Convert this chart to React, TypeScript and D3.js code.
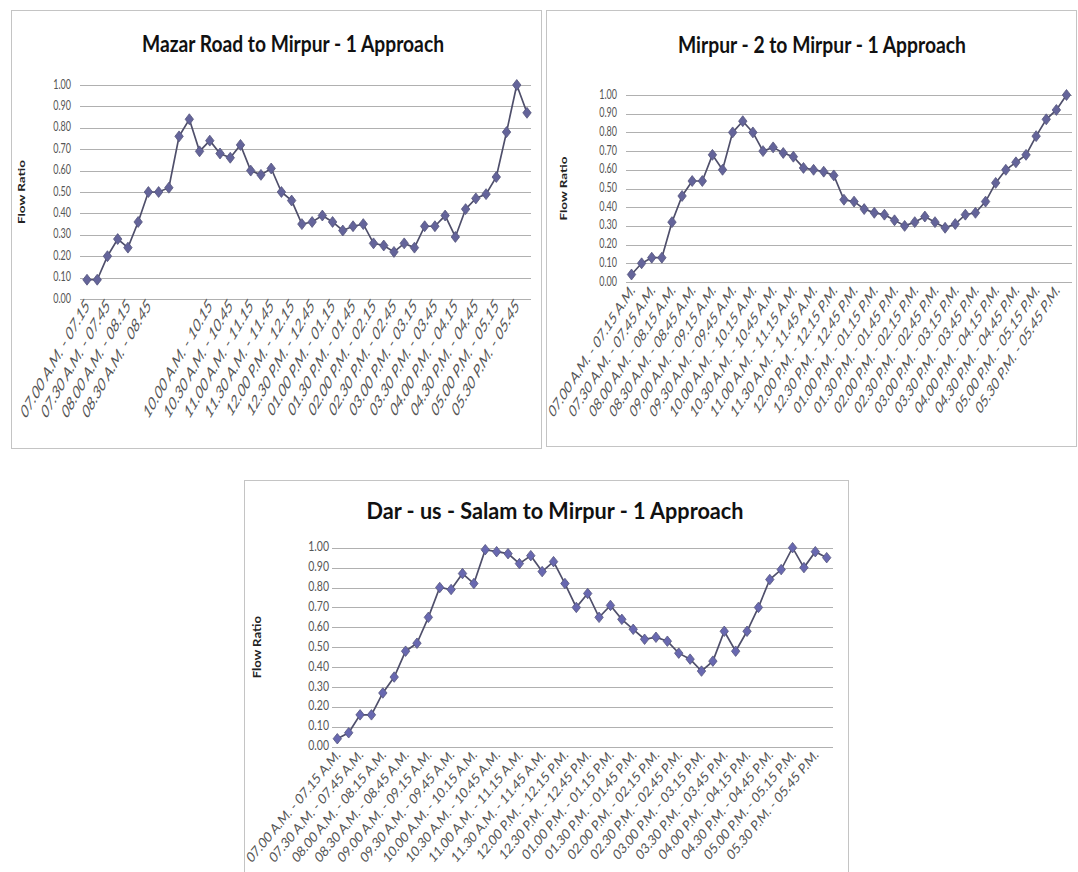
import React from "react";
import * as d3 from "d3";

// 15-minute counting periods, 07.00 A.M. to 05.45 P.M.
const slotStarts = [
  "07.00 A.M.", "07.15 A.M.", "07.30 A.M.", "07.45 A.M.", "08.00 A.M.", "08.15 A.M.",
  "08.30 A.M.", "08.45 A.M.", "09.00 A.M.", "09.15 A.M.", "09.30 A.M.", "09.45 A.M.",
  "10.00 A.M.", "10.15 A.M.", "10.30 A.M.", "10.45 A.M.", "11.00 A.M.", "11.15 A.M.",
  "11.30 A.M.", "11.45 A.M.", "12.00 P.M.", "12.15 P.M.", "12.30 P.M.", "12.45 P.M.",
  "01.00 P.M.", "01.15 P.M.", "01.30 P.M.", "01.45 P.M.", "02.00 P.M.", "02.15 P.M.",
  "02.30 P.M.", "02.45 P.M.", "03.00 P.M.", "03.15 P.M.", "03.30 P.M.", "03.45 P.M.",
  "04.00 P.M.", "04.15 P.M.", "04.30 P.M.", "04.45 P.M.", "05.00 P.M.", "05.15 P.M.",
  "05.30 P.M.", "05.45 P.M.",
];

// Axis labels shown on every second period
const fullTickLabels = [
  "07.00 A.M. - 07.15 A.M.", "07.30 A.M. - 07.45 A.M.", "08.00 A.M. - 08.15 A.M.",
  "08.30 A.M. - 08.45 A.M.", "09.00 A.M. - 09.15 A.M.", "09.30 A.M. - 09.45 A.M.",
  "10.00 A.M. - 10.15 A.M.", "10.30 A.M. - 10.45 A.M.", "11.00 A.M. - 11.15 A.M.",
  "11.30 A.M. - 11.45 A.M.", "12.00 P.M. - 12.15 P.M.", "12.30 P.M. - 12.45 P.M.",
  "01.00 P.M. - 01.15 P.M.", "01.30 P.M. - 01.45 P.M.", "02.00 P.M. - 02.15 P.M.",
  "02.30 P.M. - 02.45 P.M.", "03.00 P.M. - 03.15 P.M.", "03.30 P.M. - 03.45 P.M.",
  "04.00 P.M. - 04.15 P.M.", "04.30 P.M. - 04.45 P.M.", "05.00 P.M. - 05.15 P.M.",
  "05.30 P.M. - 05.45 P.M.",
];

const mazarTickLabels = [
  "07.00 A.M. - 07.15", "07.30 A.M. - 07.45", "08.00 A.M. - 08.15", "08.30 A.M. - 08.45",
  "", "", "10.00 A.M. - 10.15", "10.30 A.M. - 10.45", "11.00 A.M. - 11.15",
  "11.30 A.M. - 11.45", "12.00 P.M. - 12.15", "12.30 P.M. - 12.45", "01.00 P.M. - 01.15",
  "01.30 P.M. - 01.45", "02.00 P.M. - 02.15", "02.30 P.M. - 02.45", "03.00 P.M. - 03.15",
  "03.30 P.M. - 03.45", "04.00 P.M. - 04.15", "04.30 P.M. - 04.45", "05.00 P.M. - 05.15",
  "05.30 P.M. - 05.45",
];

const yTicks = [0, 0.1, 0.2, 0.3, 0.4, 0.5, 0.6, 0.7, 0.8, 0.9, 1.0];

// Flow ratio per period for each approach
const mazarValues = [
  0.09, 0.09, 0.20, 0.28, 0.24, 0.36, 0.50, 0.50, 0.52, 0.76, 0.84, 0.69, 0.74, 0.68, 0.66,
  0.72, 0.60, 0.58, 0.61, 0.50, 0.46, 0.35, 0.36, 0.39, 0.36, 0.32, 0.34, 0.35, 0.26, 0.25,
  0.22, 0.26, 0.24, 0.34, 0.34, 0.39, 0.29, 0.42, 0.47, 0.49, 0.57, 0.78, 1.00, 0.87,
];

const mirpur2Values = [
  0.04, 0.10, 0.13, 0.13, 0.32, 0.46, 0.54, 0.54, 0.68, 0.60, 0.80, 0.86, 0.80, 0.70, 0.72,
  0.69, 0.67, 0.61, 0.60, 0.59, 0.57, 0.44, 0.43, 0.39, 0.37, 0.36, 0.33, 0.30, 0.32, 0.35,
  0.32, 0.29, 0.31, 0.36, 0.37, 0.43, 0.53, 0.60, 0.64, 0.68, 0.78, 0.87, 0.92, 1.00,
];

const darUsSalamValues = [
  0.04, 0.07, 0.16, 0.16, 0.27, 0.35, 0.48, 0.52, 0.65, 0.80, 0.79, 0.87, 0.82, 0.99, 0.98,
  0.97, 0.92, 0.96, 0.88, 0.93, 0.82, 0.70, 0.77, 0.65, 0.71, 0.64, 0.59, 0.54, 0.55, 0.53,
  0.47, 0.44, 0.38, 0.43, 0.58, 0.48, 0.58, 0.70, 0.84, 0.89, 1.00, 0.90, 0.98, 0.95,
];

type PanelProps = {
  box: [number, number, number, number];
  title: string;
  titleX: number;
  titleY: number;
  titleWidth: number;
  titleSize: number;
  firstX: number;
  lastX: number;
  zeroY: number;
  oneY: number;
  gridLeft: number;
  gridRight: number;
  tickRight: number;
  axisTitleX: number;
  values: number[];
  tickLabels: string[];
  stretch: number;
  labelStretch: number;
  tickSize: number;
  labelSize: number;
  labelDx: number;
  labelDy: number;
  markFill: string;
};

const FONT = "Lato, 'Open Sans', 'DejaVu Sans', sans-serif";

function Panel(p: PanelProps) {
  const x = d3.scalePoint<number>().domain(d3.range(slotStarts.length)).range([p.firstX, p.lastX]);
  const y = d3.scaleLinear().domain([0, 1]).range([p.zeroY, p.oneY]);
  const line = d3
    .line<number>()
    .x((_, i) => x(i) as number)
    .y((d) => y(d));
  const fmt = d3.format(".2f");
  const dw = 4.2;
  const dh = 4.2 * Math.min(p.stretch, 1.3);
  const [bx, by, bw, bh] = p.box;
  const midY = (p.zeroY + p.oneY) / 2;

  return (
    <g>
      <rect x={bx + 0.5} y={by + 0.5} width={bw} height={bh} fill="#fff" stroke="#c4c4c4" />
      <text
        x={p.titleX}
        y={p.titleY}
        textAnchor="middle"
        fontFamily={FONT}
        fontWeight={700}
        fontSize={p.titleSize}
        fill="#111"
        textLength={p.titleWidth}
        lengthAdjust="spacingAndGlyphs"
      >
        {p.title}
      </text>
      {yTicks.map((t) => (
        <g key={t}>
          <line
            x1={p.gridLeft}
            x2={p.gridRight}
            y1={Math.round(y(t)) + 0.5}
            y2={Math.round(y(t)) + 0.5}
            stroke="#b0b0b0"
            strokeWidth={1.2}
          />
          <text
            transform={`translate(${p.tickRight},${y(t) + 3.5}) scale(1,${p.stretch})`}
            textAnchor="end"
            fontFamily={FONT}
            fontSize={p.tickSize}
            fill="#555"
          >
            {fmt(t)}
          </text>
        </g>
      ))}
      <text
        transform={`translate(${p.axisTitleX},${midY}) scale(1,${p.stretch}) rotate(-90)`}
        textAnchor="middle"
        fontFamily={FONT}
        fontWeight={700}
        fontSize={p.tickSize}
        fill="#222"
      >
        Flow Ratio
      </text>
      {p.tickLabels.map((lab, j) =>
        lab ? (
          <text
            key={j}
            transform={`translate(${(x(j * 2) as number) + p.labelDx},${p.zeroY + p.labelDy}) scale(1,${p.labelStretch}) rotate(-45)`}
            textAnchor="end"
            fontFamily={FONT}
            fontSize={p.labelSize}
            fill="#555"
          >
            {lab}
          </text>
        ) : null
      )}
      <path d={line(p.values) ?? ""} fill="none" stroke="#4f4f6b" strokeWidth={1.7} />
      {p.values.map((v, i) => {
        const cx = x(i) as number;
        const cy = y(v);
        return (
          <path
            key={i}
            d={`M${cx},${cy - dh}L${cx + dw},${cy}L${cx},${cy + dh}L${cx - dw},${cy}Z`}
            fill={p.markFill}
            stroke="#55557c"
            strokeWidth={0.8}
          />
        );
      })}
    </g>
  );
}

export default function App() {
  return (
    <svg
      width={1078}
      height={872}
      viewBox="0 0 1078 872"
      style={{ position: "absolute", left: 0, top: 0, background: "#fff" }}
    >
      <Panel
        box={[11, 10, 530, 438]}
        title="Mazar Road to Mirpur - 1 Approach"
        titleX={293}
        titleY={52}
        titleWidth={302}
        titleSize={22}
        firstX={87}
        lastX={527}
        zeroY={299}
        oneY={85}
        gridLeft={80}
        gridRight={531}
        tickRight={71}
        axisTitleX={25}
        values={mazarValues}
        tickLabels={mazarTickLabels}
        stretch={1.5}
        labelStretch={1.75}
        tickSize={9}
        labelSize={11}
        labelDx={3}
        labelDy={8}
        markFill="#64649a"
      />
      <Panel
        box={[546, 10, 530, 436]}
        title="Mirpur - 2 to Mirpur - 1 Approach"
        titleX={822}
        titleY={53}
        titleWidth={288}
        titleSize={22}
        firstX={631.5}
        lastX={1066.5}
        zeroY={282}
        oneY={95}
        gridLeft={626}
        gridRight={1072}
        tickRight={617}
        axisTitleX={567}
        values={mirpur2Values}
        tickLabels={fullTickLabels}
        stretch={1.5}
        labelStretch={1.55}
        tickSize={9}
        labelSize={11}
        labelDx={4}
        labelDy={9}
        markFill="#64649a"
      />
      <Panel
        box={[244, 480, 604, 400]}
        title="Dar - us - Salam to Mirpur - 1 Approach"
        titleX={555}
        titleY={519}
        titleWidth={377}
        titleSize={22}
        firstX={337.3}
        lastX={826.7}
        zeroY={746.7}
        oneY={547.7}
        gridLeft={332}
        gridRight={833}
        tickRight={329}
        axisTitleX={261}
        values={darUsSalamValues}
        tickLabels={fullTickLabels}
        stretch={1.25}
        labelStretch={1.2}
        tickSize={10.5}
        labelSize={12}
        labelDx={4}
        labelDy={9}
        markFill="#6868b0"
      />
    </svg>
  );
}
